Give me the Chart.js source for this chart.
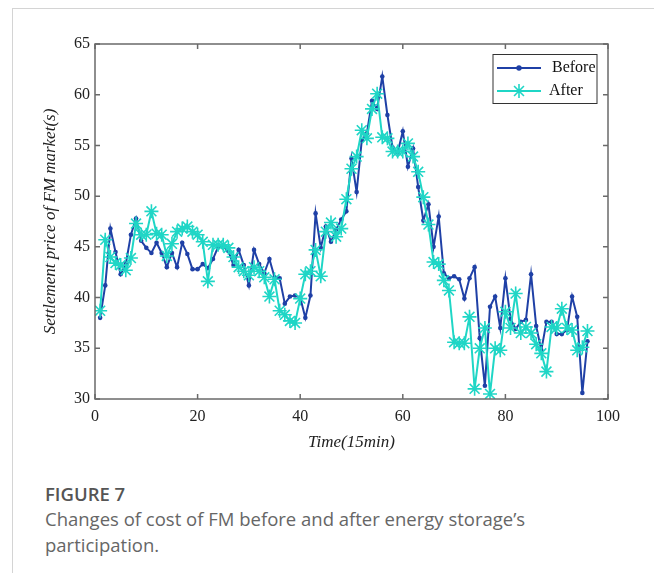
<!DOCTYPE html>
<html>
<head>
<meta charset="utf-8">
<script src="https://cdn.jsdelivr.net/npm/chart.js@4.4.1/dist/chart.umd.min.js"></script>
<style>
  html, body { margin: 0; padding: 0; background: #fff; }
  body { width: 654px; height: 573px; position: relative; overflow: hidden; }
  .frame { position: absolute; left: 12px; top: 8px; right: 0; bottom: 0;
           border-left: 1.5px solid #d4d4d4; border-top: 1.5px solid #d4d4d4; }
  #chartBox { position: absolute; left: 0; top: 0; width: 654px; height: 460px; }
  .fig-label { position: absolute; left: 45px; top: 481px; font-family: "Open Sans", sans-serif;
               font-size: 18.5px; font-weight: 600; color: #555; }
  .fig-text { position: absolute; left: 45px; top: 506px; width: 545px; font-family: "Open Sans", sans-serif;
              font-size: 18.5px; line-height: 26px; color: #666; }
</style>
</head>
<body>
<div class="frame"></div>
<div id="chartBox"><canvas id="priceChart"></canvas></div>
<div class="fig-label">FIGURE 7</div>
<div class="fig-text">Changes of cost of FM before and after energy storage’s participation.</div>

<script>
// --- DATA ---
const timeSteps = [
  1, 2, 3, 4, 5, 6, 7, 8, 9, 10, 11, 12, 13, 14, 15, 16, 17, 18, 19, 20,
  21, 22, 23, 24, 25, 26, 27, 28, 29, 30, 31, 32, 33, 34, 35, 36, 37, 38, 39, 40,
  41, 42, 43, 44, 45, 46, 47, 48, 49, 50, 51, 52, 53, 54, 55, 56, 57, 58, 59, 60,
  61, 62, 63, 64, 65, 66, 67, 68, 69, 70, 71, 72, 73, 74, 75, 76, 77, 78, 79, 80,
  81, 82, 83, 84, 85, 86, 87, 88, 89, 90, 91, 92, 93, 94, 95, 96
];

const priceBefore = [
  38.0, 41.2, 46.8, 44.5, 42.3, 43.3, 46.2, 47.8, 45.6, 44.9,
  44.4, 45.4, 44.4, 43.0, 44.4, 43.0, 45.4, 44.3, 42.8, 42.8,
  43.3, 42.9, 43.8, 45.0, 45.0, 44.6, 43.2, 44.7, 43.2, 41.2,
  44.7, 43.3, 42.4, 43.8, 42.0, 41.9, 39.4, 40.1, 40.2, 40.0,
  38.0, 40.2, 48.3, 44.9, 47.0, 45.5, 46.7, 47.7, 48.5, 53.7,
  50.4, 55.5, 56.2, 59.4, 58.6, 61.8, 58.0, 54.8, 54.3, 56.4,
  52.9, 54.7, 50.9, 47.6, 49.2, 45.0, 48.0, 42.4, 41.9, 42.1,
  41.8, 39.9, 41.9, 43.0, 36.0, 31.3, 39.1, 40.1, 37.0, 41.9,
  37.9, 36.9, 37.6, 37.8, 42.3, 37.2, 34.8, 37.6, 37.6, 36.4,
  36.4, 36.8, 40.1, 38.1, 30.6, 35.7
];

const priceAfter = [
  38.7, 45.7, 44.0, 43.4, 43.2, 42.7, 43.9, 47.3, 46.2, 46.2,
  48.5, 46.3, 46.2, 44.1, 45.3, 46.5, 46.8, 47.0, 46.5, 46.2,
  45.5, 41.6, 45.2, 45.2, 45.2, 44.9, 44.0, 43.0, 42.6, 42.2,
  43.0, 42.6, 42.0, 40.1, 41.8, 38.7, 38.3, 37.7, 37.5, 39.9,
  42.3, 42.6, 44.7, 42.1, 46.5, 47.4, 46.0, 46.8, 49.7, 52.7,
  53.9, 56.5, 55.7, 58.6, 60.1, 55.8, 55.7, 54.4, 54.4, 54.4,
  55.2, 53.9, 52.4, 49.9, 47.2, 43.5, 43.3, 41.7, 40.7, 35.6,
  35.5, 35.5, 38.1, 31.0, 35.0, 37.0, 30.5, 35.0, 34.8, 38.6,
  37.0, 40.4, 36.5, 37.1, 36.5, 35.4, 34.5, 32.7, 37.1, 37.0,
  38.9, 37.0, 36.8, 34.8, 35.1, 36.7
];

const xTicks = [0, 20, 40, 60, 80, 100];
const yTicks = [30, 35, 40, 45, 50, 55, 60, 65];
const seriesNames = ['Before', 'After'];

const BLUE = '#1f40a6';
const CYAN = '#1fd6c6';
const SERIF = '"Liberation Serif", "Times New Roman", serif';

// --- box with inward ticks (MATLAB look) ---
const axesBox = {
  id: 'axesBox',
  afterDatasetsDraw(chart) {
    const { ctx, chartArea: a, scales: { x, y } } = chart;
    ctx.save();
    ctx.strokeStyle = '#6a6a6a';
    ctx.lineWidth = 1.5;
    ctx.strokeRect(a.left, a.top, a.right - a.left, a.bottom - a.top);
    ctx.beginPath();
    xTicks.forEach(v => {
      const px = x.getPixelForValue(v);
      ctx.moveTo(px, a.bottom); ctx.lineTo(px, a.bottom - 5);
      ctx.moveTo(px, a.top); ctx.lineTo(px, a.top + 5);
    });
    yTicks.forEach(v => {
      const py = y.getPixelForValue(v);
      ctx.moveTo(a.left, py); ctx.lineTo(a.left + 5, py);
      ctx.moveTo(a.right, py); ctx.lineTo(a.right - 5, py);
    });
    ctx.stroke();
    ctx.restore();
  },
  afterDraw(chart) {
    // legend box in the upper right corner
    const { ctx, chartArea: a } = chart;
    const ds = chart.data.datasets;
    const right = a.right - 11, top = a.top + 10.5, w = 104, h = 49;
    const left = right - w;
    ctx.save();
    ctx.fillStyle = '#fff';
    ctx.fillRect(left, top, w, h);
    ctx.strokeStyle = '#333';
    ctx.lineWidth = 1;
    ctx.strokeRect(left, top, w, h);
    ctx.font = '16px ' + SERIF;
    ctx.textBaseline = 'middle';
    ds.forEach((d, i) => {
      const yy = top + 13.5 + i * 23;
      ctx.strokeStyle = d.borderColor;
      ctx.lineWidth = 2;
      ctx.beginPath();
      ctx.moveTo(left + 4, yy); ctx.lineTo(left + 48, yy);
      ctx.stroke();
      ctx.fillStyle = d.pointBackgroundColor;
      ctx.strokeStyle = d.pointBorderColor;
      ctx.lineWidth = d.pointBorderWidth || 1;
      Chart.helpers.drawPoint(ctx, {
        pointStyle: d.pointStyle, radius: d.pointRadius + (i === 0 ? 0.4 : 0), rotation: 0,
        borderWidth: d.pointBorderWidth
      }, left + 26, yy);
      ctx.fillStyle = '#111';
      ctx.fillText(d.label, left + (i === 0 ? 59 : 56), yy);
    });
    ctx.restore();
  }
};

const ctx = document.getElementById('priceChart').getContext('2d');
new Chart(ctx, {
  type: 'line',
  data: {
    datasets: [
      {
        label: seriesNames[0],
        data: timeSteps.map((t, i) => ({ x: t, y: priceBefore[i] })),
        borderColor: BLUE,
        backgroundColor: BLUE,
        pointBackgroundColor: BLUE,
        pointBorderColor: BLUE,
        borderWidth: 2,
        pointStyle: 'circle',
        pointRadius: 2.3,
        pointBorderWidth: 0,
        tension: 0,
        order: 1
      },
      {
        label: seriesNames[1],
        data: timeSteps.map((t, i) => ({ x: t, y: priceAfter[i] })),
        borderColor: CYAN,
        backgroundColor: CYAN,
        pointBackgroundColor: CYAN,
        pointBorderColor: CYAN,
        borderWidth: 2,
        pointStyle: 'star',
        pointRadius: 7,
        pointBorderWidth: 1.6,
        tension: 0,
        order: 0
      }
    ]
  },
  options: {
    responsive: true,
    maintainAspectRatio: false,
    animation: false,
    layout: { padding: { left: 0, right: 46, top: 44, bottom: 0 } },
    plugins: { legend: { display: false }, tooltip: { enabled: false } },
    scales: {
      x: {
        type: 'linear', min: 0, max: 100,
        afterFit: s => { s.height = 61; },
        afterBuildTicks: s => { s.ticks = xTicks.map(v => ({ value: v })); },
        grid: { display: false, drawTicks: false },
        border: { display: false },
        ticks: { color: '#222', padding: 8, font: { family: SERIF, size: 16 } },
        title: {
          display: true, text: 'Time(15min)', color: '#222',
          padding: { top: 4, bottom: 7 },
          font: { family: SERIF, size: 17, style: 'italic' }
        }
      },
      y: {
        min: 30, max: 65,
        afterFit: s => { s.width = 95; },
        afterBuildTicks: s => { s.ticks = yTicks.map(v => ({ value: v })); },
        grid: { display: false, drawTicks: false },
        border: { display: false },
        ticks: { color: '#222', padding: 5, font: { family: SERIF, size: 16 } },
        title: {
          display: true, text: 'Settlement price of FM market(s)', color: '#222',
          padding: { top: 40, bottom: 0 },
          font: { family: SERIF, size: 17, style: 'italic' }
        }
      }
    }
  },
  plugins: [axesBox]
});
</script>
</body>
</html>
